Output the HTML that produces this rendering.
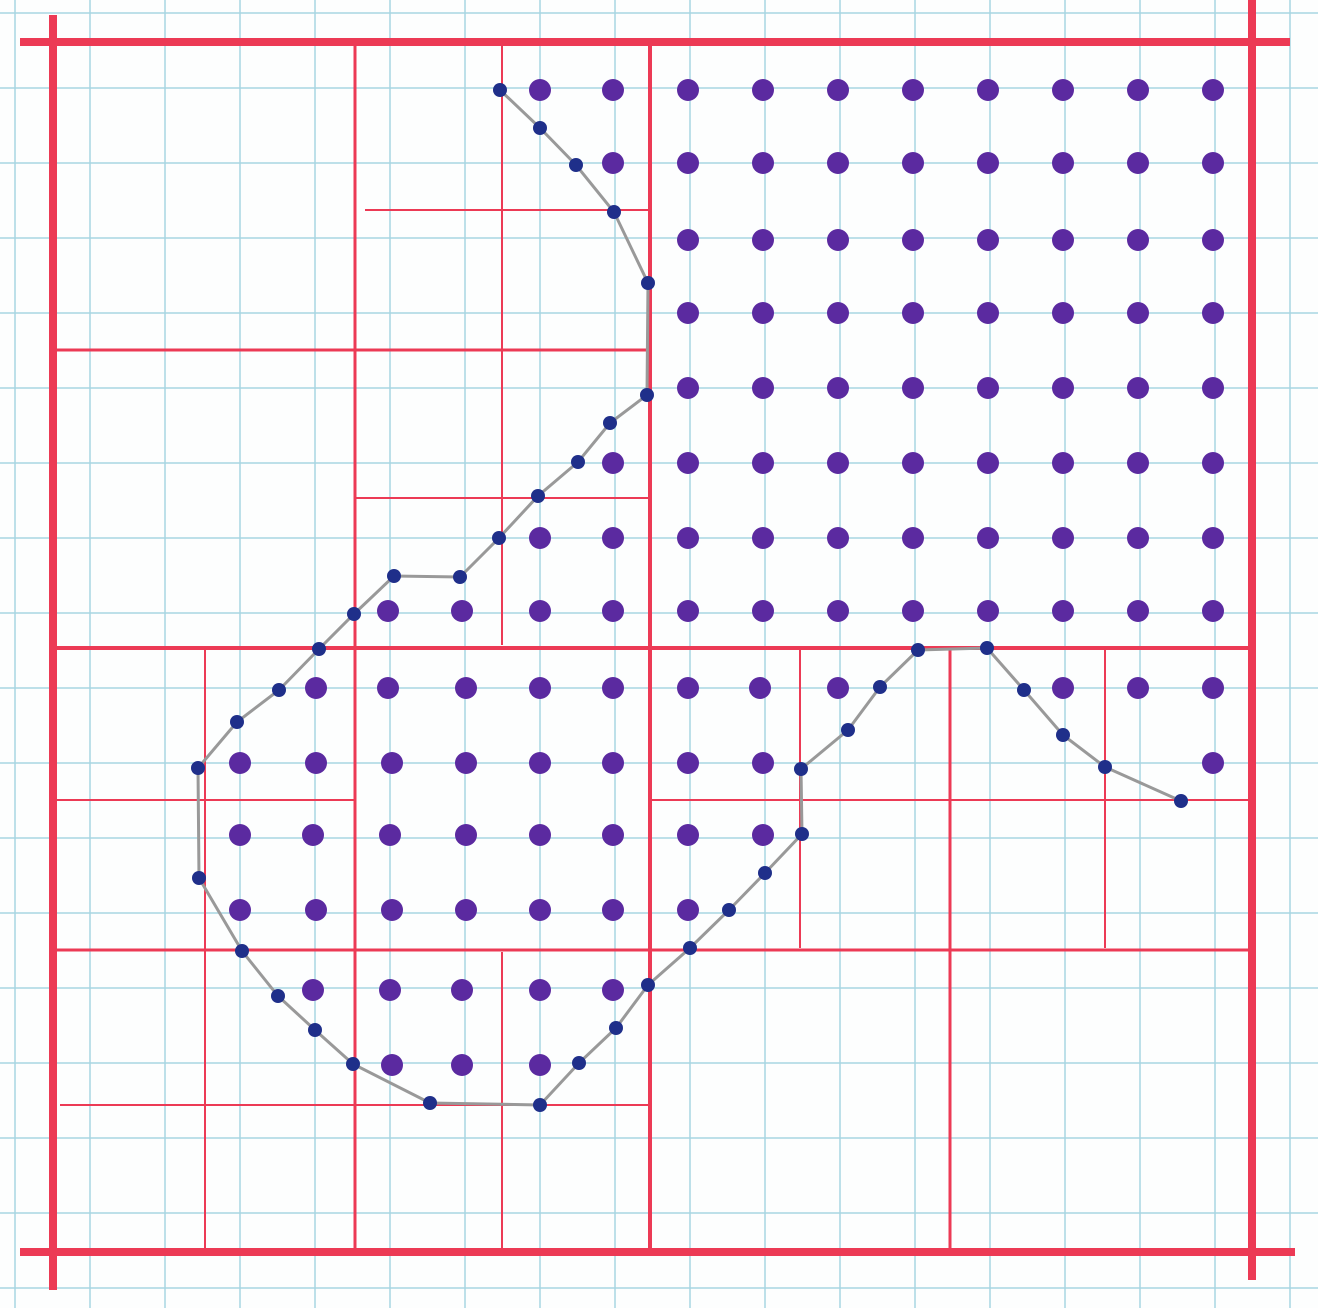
<!DOCTYPE html>
<html><head><meta charset="utf-8"><style>
html,body{margin:0;padding:0;background:#fff;}
svg{display:block}
</style></head><body>
<svg id="chart" width="1318" height="1308" viewBox="0 0 1318 1308" xmlns="http://www.w3.org/2000/svg">
<rect width="1318" height="1308" fill="#fdfefe"/>
<g id="grid"></g><g id="red"></g><g id="fill"></g><g id="bound"></g>
</svg>
<script>
const NS='http://www.w3.org/2000/svg';
const rowsY=[90,163,240,313,388,463,538,611,688,763,835,910,990,1065];
const colsX=[240,316,390,466,540,613,688,763,838,913,988,1063,1138,1213];
const fullTop=[688,763,838,913,988,1063,1138,1213];
const rowCols=[
 [540,613].concat(fullTop),
 [613].concat(fullTop),
 fullTop, fullTop, fullTop,
 [613].concat(fullTop),
 [540,613].concat(fullTop),
 [388,462,540,613].concat(fullTop),
 [316,388,466,540,613,688,760,838,1063,1138,1213],
 [240,316,392,466,540,613,688,763,1213],
 [240,313,390,466,540,613,688,763],
 [240,316,392,466,540,613,688],
 [313,390,462,540,613],
 [392,462,540]
];
const boundX=[500,540,576,614,648,647,610,578,538,499,460,394,354,319,279,237,198,199,242,278,315,353,430,540,579,616,648,690,729,765,802,801,848,880,918,987,1024,1063,1105,1181];
const boundY=[90,128,165,212,283,395,423,462,496,538,577,576,614,649,690,722,768,878,951,996,1030,1064,1103,1105,1063,1028,985,948,910,873,834,769,730,687,650,648,690,735,767,801];
// red lines: [x1,y1,x2,y2,width]
const redLines=[
 [20,42,1290,42,8],[20,1252,1295,1252,8],[53,15,53,1290,8],[1252,0,1252,1280,8],
 [650,42,650,1252,4],[53,648,1252,648,4],[355,42,355,1252,3],[53,350,650,350,3],
 [502,42,502,645,2],[365,210,650,210,2],[355,498,650,498,2],[205,648,205,1252,2],
 [53,800,355,800,2],[650,800,1252,800,2],[53,950,1252,950,3],[502,952,502,1252,2],
 [60,1105,650,1105,2],[800,648,800,948,2],[950,648,950,1252,3],[1105,648,1105,948,2]
];
function el(t,a,p,name){const e=document.createElementNS(NS,t);for(const k in a)e.setAttribute(k,a[k]);
 
 
 p.appendChild(e);return e;}
const g=document.getElementById('grid');
for(let x=15;x<1318;x+=75)el('line',{x1:x,y1:0,x2:x,y2:1308,stroke:'#a8d6e2','stroke-width':1.5},g,'grid-line-vertical');
for(let y=13;y<1308;y+=75)el('line',{x1:0,y1:y,x2:1318,y2:y,stroke:'#a8d6e2','stroke-width':1.5},g,'grid-line-horizontal');
const r=document.getElementById('red');
redLines.forEach(l=>el('line',{x1:l[0],y1:l[1],x2:l[2],y2:l[3],stroke:'#ec3a55','stroke-width':l[4]},r,'quadtree-line'));
const f=document.getElementById('fill');
rowCols.forEach((cs,i)=>cs.forEach(x=>el('circle',{cx:x,cy:rowsY[i],r:11,fill:'#5b2aa0'},f,'interior-point')));
const b=document.getElementById('bound');
el('polyline',{points:boundX.map((x,i)=>x+','+boundY[i]).join(' '),fill:'none',stroke:'#999','stroke-width':3},b,'boundary-curve');
boundX.forEach((x,i)=>el('circle',{cx:x,cy:boundY[i],r:7,fill:'#1f2f8a'},b,'boundary-point'));
</script>
</body></html>
